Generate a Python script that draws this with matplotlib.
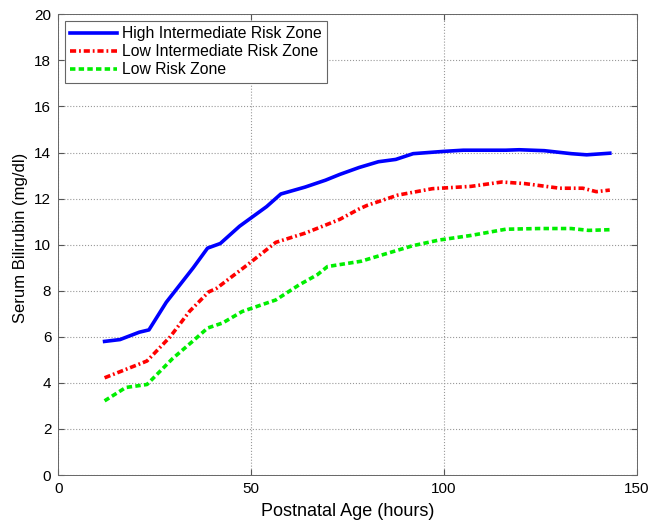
import numpy as np
import matplotlib
matplotlib.use("Agg")
import matplotlib.pyplot as plt

plt.rcParams['font.family'] = ['Liberation Sans', 'DejaVu Sans']

# hours / bilirubin values
hi_x = [12, 16, 21, 23.5, 28, 35, 38.7, 42, 47, 54, 57.7, 64, 69.3, 73, 78, 83, 87.5, 92, 100, 105, 116, 119.5, 126, 133, 137, 143]
hi_y = [5.8, 5.88, 6.2, 6.3, 7.5, 9.0, 9.85, 10.05, 10.8, 11.65, 12.2, 12.5, 12.8, 13.05, 13.35, 13.6, 13.7, 13.95, 14.05, 14.1, 14.1, 14.12, 14.08, 13.95, 13.9, 13.97]

lo_x = [12, 23, 29, 34, 39, 41, 49, 56.4, 64, 69.3, 73, 78, 80, 88, 97, 107, 115, 121, 130, 136, 139.5, 143]
lo_y = [4.22, 4.95, 6.0, 7.1, 7.95, 8.1, 9.12, 10.1, 10.5, 10.85, 11.1, 11.55, 11.7, 12.15, 12.43, 12.53, 12.72, 12.65, 12.45, 12.45, 12.3, 12.37]

lr_x = [12, 17.5, 23, 29.6, 34.8, 38.7, 42.6, 47.7, 56.4, 62.4, 67.2, 69.8, 78.5, 91.8, 98.7, 107, 116, 124.6, 133, 137.5, 143]
lr_y = [3.22, 3.8, 3.93, 5.05, 5.8, 6.38, 6.6, 7.1, 7.6, 8.25, 8.7, 9.05, 9.28, 9.95, 10.2, 10.4, 10.67, 10.7, 10.7, 10.62, 10.65]

fig = plt.figure(figsize=(6.5, 5.2), dpi=100)
ax = fig.add_axes([0.0897, 0.0865, 0.890, 0.886])

ax.plot(hi_x, hi_y, color='#0000ff', lw=2.6, ls='-', label='High Intermediate Risk Zone')
ax.plot(lo_x, lo_y, color='#ff0000', lw=2.6, dashes=(1.7, 0.8, 0.5, 0.8), label='Low Intermediate Risk Zone')
ax.plot(lr_x, lr_y, color='#00ee00', lw=2.6, dashes=(1.5, 0.9), label='Low Risk Zone')

ax.set_xlim(0, 150)
ax.set_ylim(0, 20)
ax.set_xticks([0, 50, 100, 150])
ax.set_yticks(np.arange(0, 21, 2))
ax.grid(True, ls=':', color='#999999', lw=0.8)
ax.tick_params(direction='in', top=True, right=True, labelsize=11, length=4,
               color='#555555', pad=5)
for s in ax.spines.values():
    s.set_linewidth(0.7)
    s.set_color('#666666')

ax.set_xlabel('Postnatal Age (hours)', fontsize=13, labelpad=5)
ax.set_ylabel('Serum Bilirubin (mg/dl)', fontsize=12)
ax.yaxis.set_label_coords(-0.052, 0.515)

leg = ax.legend(loc='upper left', fontsize=11.3, fancybox=False, edgecolor='#666666',
                handlelength=3.0, handletextpad=0.3, borderpad=0.35, labelspacing=0.2,
                borderaxespad=0.4, framealpha=1)
leg.get_frame().set_linewidth(0.8)

fig.savefig('out.png', dpi=100)
